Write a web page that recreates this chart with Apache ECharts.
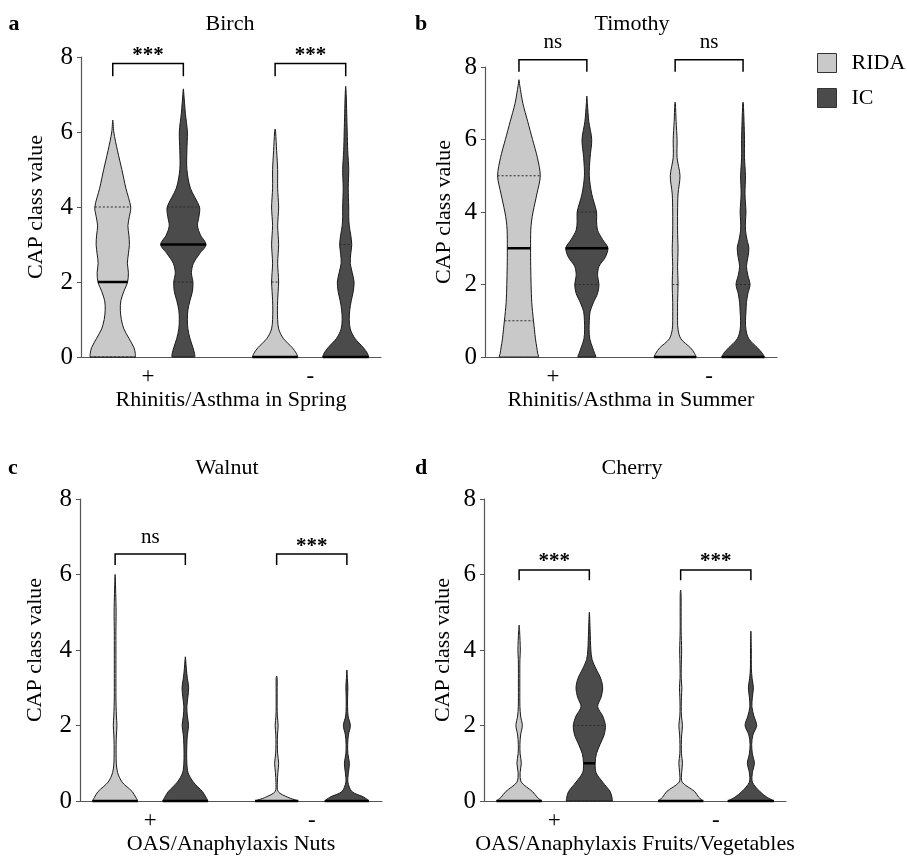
<!DOCTYPE html>
<html>
<head>
<meta charset="utf-8">
<script src="https://cdn.jsdelivr.net/npm/echarts@6/dist/echarts.min.js"></script>
<style>
  html, body { margin: 0; background: #fff; }
  #chart { width: 907px; height: 856px; }
</style>
</head>
<body>
<div id="chart"></div>
<script>
// y levels at which the violin half-widths (kernel density) are given
const LEVELS = [0, 0.1, 0.25, 0.5, 0.75, 1, 1.25, 1.5, 1.75, 2, 2.25, 2.5, 2.75, 3, 3.25, 3.5, 3.75, 4, 4.5, 5, 5.5, 6, 6.5, 7, 7.5];

// violin positions: RIDA +, IC +, RIDA -, IC -
const POSITIONS = [1, 2, 3.3, 4.3];
const GROUP_TICKS = [1.5, 3.8];
const GROUP_LABELS = ['+', '-'];
const Y_TICKS = [0, 2, 4, 6, 8];

const TITLES = ['Birch', 'Timothy', 'Walnut', 'Cherry'];
const LETTERS = ['a', 'b', 'c', 'd'];
const X_NAMES = ['Rhinitis/Asthma in Spring', 'Rhinitis/Asthma in Summer', 'OAS/Anaphylaxis Nuts', 'OAS/Anaphylaxis Fruits/Vegetables'];

// half-widths per level (relative density)
const birchRidaPos = [22.5, 22.3, 21, 16, 11, 8.5, 7.5, 8, 11, 14.7, 15.5, 14.5, 15.5, 16.5, 16, 15, 16.5, 17.8, 13, 9, 4.7, 1];
const birchIcPos = [11, 11, 9.5, 6.5, 4.5, 4, 4.5, 6.5, 9, 9.5, 8, 10, 16, 22.5, 17, 14, 15.5, 16, 7, 3.5, 3.5, 4, 2, 0.5];
const birchRidaNeg = [22.5, 21, 17, 8, 3.5, 2.5, 2.3, 2.5, 3, 3.5, 3, 2.5, 3, 3.5, 3, 2.5, 3, 3.5, 2.5, 2.5, 1.5, 0.5];
const birchIcNeg = [22.8, 21.5, 17.5, 9, 4.5, 3.5, 4, 5.5, 7.5, 8.3, 6.5, 4.5, 5, 6, 5, 3.5, 3, 3, 2.5, 3, 2, 1.5, 1, 0.5];

const timothyRidaPos = [20, 19.3, 18.5, 17, 16, 15, 14, 13.2, 12.8, 12.5, 12.3, 12.1, 12, 12, 12, 12.2, 13, 14.5, 18.5, 22, 19, 14, 9, 4, 0.8];
const timothyIcPos = [9, 8, 6, 3, 2.3, 2.5, 3.3, 6.7, 11, 12.5, 11, 12.5, 19, 21.8, 16, 11, 10, 10, 5, 2.5, 3.3, 5, 2, 0.5];
const timothyRidaNeg = [21.7, 20, 16, 6, 3, 2.5, 2.5, 2.5, 2.8, 3, 2.8, 2.5, 2.8, 3, 2.7, 2.5, 2.5, 2.5, 3, 5, 2, 2, 1, 0.3];
const timothyIcNeg = [22, 20, 15, 6, 3, 2.5, 3, 3.5, 5, 7.2, 5, 3.5, 5, 6, 4, 2.5, 2.5, 3, 2, 2.5, 1.5, 1.5, 1, 0.3];

const walnutRidaPos = [22.5, 20.5, 17, 7, 2.5, 1.2, 1, 1, 1.3, 1.8, 1.3, 1, 0.8, 0.8, 0.8, 0.8, 0.8, 0.8, 0.8, 1, 0.6];
const walnutIcPos = [22.5, 20.5, 17, 8, 2.7, 1.5, 1.3, 1.5, 2, 3.2, 2, 1.5, 2.5, 3.3, 2, 1, 0.3];
const walnutRidaNeg = [21.5, 11, 1.5, 0.7, 1.2, 2, 1, 0.7, 0.8, 1.5, 0.7, 0.5, 0.5, 0.5, 0.5];
const walnutIcNeg = [22, 17, 5, 1, 1.5, 2.5, 1, 0.8, 1.5, 3.5, 1.2, 0.7, 0.7, 1, 0.5];

const cherryRidaPos = [22.5, 18, 13.3, 2.2, 1, 2.2, 1, 0.8, 1.5, 3.2, 1.5, 0.8, 0.7, 0.7, 0.7, 0.7, 0.8, 1.2, 0.5];
const cherryIcPos = [23, 22.5, 20.7, 13.3, 6.7, 5.8, 7, 10.7, 14.7, 16, 13.3, 8.3, 11.7, 13.3, 11.3, 6.7, 2.7, 1.5, 0.8];
const cherryRidaNeg = [22.5, 18, 14, 1.5, 1, 1.8, 0.8, 0.7, 1, 1.8, 0.8, 0.6, 0.8, 1.2, 0.6, 0.6, 0.8, 1, 0.5, 0.5, 0.4];
const cherryIcNeg = [23, 16, 9, 1.5, 1.5, 3.5, 1.5, 0.8, 2, 5.8, 3, 1, 1.5, 2.5, 1.2, 0.5, 0.4, 0.4];

const WIDTHS = [
  [birchRidaPos, birchIcPos, birchRidaNeg, birchIcNeg],
  [timothyRidaPos, timothyIcPos, timothyRidaNeg, timothyIcNeg],
  [walnutRidaPos, walnutIcPos, walnutRidaNeg, walnutIcNeg],
  [cherryRidaPos, cherryIcPos, cherryRidaNeg, cherryIcNeg]
];
const TOPS = [[6.32, 7.15, 6.08, 7.22], [7.65, 7.2, 7.03, 7.03], [6.0, 3.82, 3.31, 3.47], [4.66, 5.0, 5.59, 4.5]];
const MEDIANS = [[2, 3, 0, 0], [3, 3, 0, 0], [0, 0, 0, 0], [0, 1, 0, 0]];
const Q1 = [[0, 2, 0, 0], [1, 2, 0, 0], [0, 0, 0, 0], [0, 0, 0, 0]];
const Q3 = [[4, 4, 2, 3], [5, 4, 2, 2], [0, 0, 0, 0], [0, 2, 0, 0]];

const SIG_LABELS = [['***', '***'], ['ns', 'ns'], ['ns', '***'], ['***', '***']];
const BRACKET_TOP = [7.83, 8.2, 6.54, 6.12];
const BRACKET_LEG = [7.49, 7.87, 6.25, 5.85];

// layout
const GRIDS = [
  { left: 81, top: 57, width: 300, height: 300 },
  { left: 485, top: 67, width: 292, height: 290 },
  { left: 80, top: 499, width: 302, height: 302 },
  { left: 484, top: 499, width: 302, height: 302 }
];
const X_MIN = [0.55, 0.5, 0.5, 0.5];
const X_MAX = [4.8, 4.8, 4.8, 4.8];
const Y_NAME_GAP = [34, 30, 34, 30];
const TITLE_POS = [[230, 24], [632, 24], [227, 468], [632, 468]];
const LETTER_POS = [[14, 24], [421, 24], [13, 468], [421, 468]];

const SERIF = '"Liberation Serif", "Times New Roman", serif';
const RIDA_COLOR = '#c9c9c9';
const IC_COLOR = '#4b4b4b';
const AXIS_COLOR = '#555';
const K = 1 / 70; // density -> x units

function bbox(pts) {
  const xs = pts.map(q => q[0]), ys = pts.map(q => q[1]);
  return [[Math.min(...xs), Math.min(...ys)], [Math.max(...xs), Math.max(...ys)]];
}

function violinRender(list) {
  return function (params, api) {
    const v = list[params.dataIndex];
    const right = v.w.map((w, i) => api.coord([v.pos + w * K, LEVELS[i]]));
    const left = v.w.map((w, i) => api.coord([v.pos - w * K, LEVELS[i]])).reverse();
    const pts = right.concat([api.coord([v.pos, v.top])], left);
    const children = [{
      type: 'polygon',
      shape: { points: pts, smooth: 0.3, smoothConstraint: bbox(pts) },
      style: { fill: v.color, stroke: '#1a1a1a', lineWidth: 1 }
    }];
    const statLine = (val, style) => {
      const hw = v.w[LEVELS.indexOf(val)] * K;
      const a = api.coord([v.pos - hw, val]);
      const b = api.coord([v.pos + hw, val]);
      children.push({ type: 'line', shape: { x1: a[0], y1: a[1], x2: b[0], y2: b[1] }, style });
    };
    const dotted = { stroke: '#2a2a2a', lineWidth: 1, lineDash: [2, 2] };
    statLine(v.q1, dotted);
    statLine(v.q3, dotted);
    statLine(v.median, { stroke: '#000', lineWidth: 2.5 });
    return { type: 'group', children };
  };
}

function bracketRender(p) {
  return function (params, api) {
    const x1 = api.value(0), x2 = api.value(1);
    const a = api.coord([x1, BRACKET_LEG[p]]);
    const b = api.coord([x1, BRACKET_TOP[p]]);
    const c = api.coord([x2, BRACKET_TOP[p]]);
    const d = api.coord([x2, BRACKET_LEG[p]]);
    const label = SIG_LABELS[p][params.dataIndex];
    const star = label === '***';
    return {
      type: 'group',
      children: [
        { type: 'polyline', shape: { points: [a, b, c, d] }, style: { stroke: '#000', lineWidth: 1.5, fill: null } },
        {
          type: 'text', x: (b[0] + c[0]) / 2, y: b[1] - (star ? 8 : 17),
          style: {
            text: label, fill: '#000', align: 'center', verticalAlign: 'middle',
            font: (star ? 'bold ' : '') + '21px ' + SERIF
          }
        }
      ]
    };
  };
}

const grid = [], xAxis = [], yAxis = [], series = [], graphic = [];

TITLES.forEach((title, p) => {
  grid.push(GRIDS[p]);
  xAxis.push({
    type: 'value', gridIndex: p, min: X_MIN[p], max: X_MAX[p],
    name: X_NAMES[p], nameLocation: 'middle', nameGap: 32,
    nameTextStyle: { fontFamily: SERIF, fontSize: 22, color: '#000' },
    axisLine: { show: true, lineStyle: { color: AXIS_COLOR, width: 1.2 } },
    axisTick: { show: false },
    splitLine: { show: false },
    axisLabel: {
      customValues: GROUP_TICKS, margin: 8,
      fontFamily: SERIF, fontSize: 23, color: '#000',
      formatter: v => GROUP_LABELS[GROUP_TICKS.indexOf(v)]
    }
  });
  yAxis.push({
    type: 'value', gridIndex: p, min: 0, max: 8, interval: 2,
    name: 'CAP class value', nameLocation: 'middle', nameGap: Y_NAME_GAP[p], nameRotate: 90,
    nameTextStyle: { fontFamily: SERIF, fontSize: 22, color: '#000' },
    axisLine: { show: true, lineStyle: { color: AXIS_COLOR, width: 1.2 } },
    axisTick: { show: true, length: 4, lineStyle: { color: AXIS_COLOR } },
    splitLine: { show: false },
    axisLabel: { margin: 8, fontFamily: SERIF, fontSize: 25, color: '#000', customValues: Y_TICKS }
  });

  const violins = POSITIONS.map((pos, i) => ({
    pos, w: WIDTHS[p][i], top: TOPS[p][i],
    median: MEDIANS[p][i], q1: Q1[p][i], q3: Q3[p][i],
    color: i % 2 === 0 ? RIDA_COLOR : IC_COLOR
  }));
  [['RIDA', RIDA_COLOR, [0, 2]], ['IC', IC_COLOR, [1, 3]]].forEach(([name, color, idx]) => {
    const list = idx.map(i => violins[i]);
    series.push({
      type: 'custom', name, xAxisIndex: p, yAxisIndex: p,
      itemStyle: { color, borderColor: '#333', borderWidth: 1 },
      renderItem: violinRender(list),
      data: list.map(v => [v.pos, v.top]),
      silent: true, z: 2
    });
  });
  series.push({
    type: 'custom', xAxisIndex: p, yAxisIndex: p, clip: false, silent: true, z: 3,
    renderItem: bracketRender(p),
    data: [[POSITIONS[0], POSITIONS[1]], [POSITIONS[2], POSITIONS[3]]]
  });

  graphic.push({
    type: 'text', x: TITLE_POS[p][0], y: TITLE_POS[p][1],
    style: { text: title, font: '22px ' + SERIF, fill: '#000', align: 'center', verticalAlign: 'middle' }
  });
  graphic.push({
    type: 'text', x: LETTER_POS[p][0], y: LETTER_POS[p][1],
    style: { text: LETTERS[p], font: 'bold 22px ' + SERIF, fill: '#000', align: 'center', verticalAlign: 'middle' }
  });
});

const chart = echarts.init(document.getElementById('chart'), null, { renderer: 'canvas' });
chart.setOption({
  animation: false,
  backgroundColor: '#fff',
  grid, xAxis, yAxis, series, graphic,
  legend: {
    data: ['RIDA', 'IC'], orient: 'vertical', left: 817, top: 52,
    icon: 'rect', itemWidth: 19, itemHeight: 19, itemGap: 13, padding: 0,
    itemStyle: { borderColor: '#333', borderWidth: 1 },
    textStyle: { fontFamily: SERIF, fontSize: 22, color: '#000', padding: [0, 0, 0, 10] },
    selectedMode: false
  }
});
</script>
</body>
</html>
